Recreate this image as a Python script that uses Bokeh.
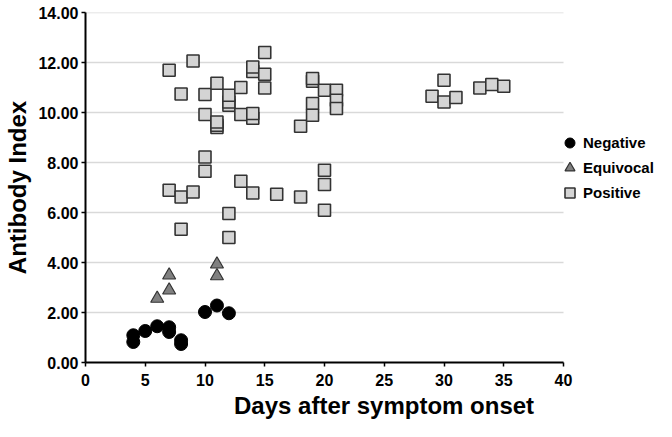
from bokeh.plotting import figure
from bokeh.models import (ColumnDataSource, Legend, LegendItem, Title, FixedTicker,
                          NumeralTickFormatter, Range1d)
from bokeh.embed import file_html
from bokeh.resources import INLINE

# ---- data ----
neg_days = [4, 4, 5, 6, 7, 7, 8, 8, 10, 11, 12]
neg_vals = [1.09, 0.82, 1.26, 1.45, 1.41, 1.22, 0.89, 0.74, 2.02, 2.28, 1.97]

equ_days = [6, 7, 7, 11, 11]
equ_vals = [2.56, 3.49, 2.89, 3.93, 3.46]

pos_days = [7, 7,
            8, 8, 8,
            9, 9,
            10, 10, 10, 10,
            11, 11, 11, 11,
            12, 12, 12, 12, 12,
            13, 13, 13,
            14, 14, 14, 14, 14,
            15, 15, 15,
            16,
            18, 18,
            19, 19, 19, 19,
            20, 20, 20, 20,
            21, 21, 21,
            29, 30, 30, 31, 33, 34, 35]
pos_vals = [11.69, 6.89,
            10.74, 6.62, 5.33,
            12.06, 6.82,
            10.72, 9.92, 8.22, 7.65,
            11.17, 9.40, 9.49, 9.62,
            10.29, 10.42, 10.69, 5.96, 5.00,
            11.00, 9.92, 7.25,
            11.64, 11.82, 9.77, 9.96, 6.78,
            12.40, 11.53, 10.98,
            6.73,
            9.45, 6.62,
            11.25, 11.36, 10.36, 9.89,
            10.89, 7.69, 7.12, 6.09,
            10.89, 10.49, 10.16,
            10.65, 11.29, 10.42, 10.60, 10.98, 11.12, 11.05]

x_ticks = [0, 5, 10, 15, 20, 25, 30, 35, 40]
y_ticks = [0, 2, 4, 6, 8, 10, 12, 14]
series_names = ["Negative", "Equivocal", "Positive"]
x_title = "Days after symptom onset"
y_title = "Antibody Index"

FONT = "Liberation Sans"

# layout (pixels)
W, H = 656, 421
LEFT, TOP, BOTTOM = 85, 12, 59
AXIS_W = 478                      # pixel length of the 0..40 day axis
frame_w = W - LEFT                # frame runs to the right edge (legend lives there)
x_end = x_ticks[-1] * frame_w / AXIS_W

p = figure(width=W, height=H, output_backend="svg", toolbar_location=None,
           x_range=Range1d(x_ticks[0], x_end), y_range=Range1d(y_ticks[0], y_ticks[-1]),
           min_border_left=LEFT, min_border_right=0, min_border_top=TOP,
           min_border_bottom=BOTTOM)
p.outline_line_color = None
p.background_fill_color = "white"
p.border_fill_color = "white"
p.xgrid.grid_line_color = None
p.ygrid.grid_line_color = None

# horizontal gridlines limited to the 0..40 axis span
gy = y_ticks[1:]
p.segment(x0=[x_ticks[0]] * len(gy), x1=[x_ticks[-1]] * len(gy), y0=gy, y1=gy,
          line_color="#d9d9d9", line_width=1.5)

p.xaxis.ticker = FixedTicker(ticks=x_ticks)
p.xaxis.bounds = (x_ticks[0], x_ticks[-1])
p.yaxis.ticker = FixedTicker(ticks=y_ticks)
p.yaxis.formatter = NumeralTickFormatter(format="0.00")
for ax in (p.xaxis, p.yaxis):
    ax.axis_line_color = "black"
    ax.axis_line_width = 2
    ax.major_tick_line_color = "black"
    ax.major_tick_line_width = 1.5
    ax.major_tick_in = 0
    ax.major_tick_out = 4
    ax.minor_tick_line_color = None
    ax.major_label_text_font = FONT
    ax.major_label_text_font_style = "bold"
    ax.major_label_text_font_size = "16px"
    ax.major_label_text_color = "black"
p.xaxis.major_label_standoff = 7
p.yaxis.major_label_standoff = 3

p.yaxis.axis_label = y_title
p.yaxis.axis_label_standoff = 4
p.yaxis.axis_label_text_font = FONT
p.yaxis.axis_label_text_font_style = "bold"
p.yaxis.axis_label_text_font_size = "24px"
p.yaxis.axis_label_text_color = "black"

src_pos = ColumnDataSource(dict(x=pos_days, y=pos_vals))
src_equ = ColumnDataSource(dict(x=equ_days, y=equ_vals))
src_neg = ColumnDataSource(dict(x=neg_days, y=neg_vals))

r_pos = p.scatter("x", "y", source=src_pos, marker="square", size=12,
                  fill_color="#d4d4d4", line_color="#333333", line_width=1.6)
r_equ = p.scatter("x", "y", source=src_equ, marker="triangle", size=13,
                  fill_color="#808080", line_color="#333333", line_width=1.2)
r_neg = p.scatter("x", "y", source=src_neg, marker="circle", size=13,
                  fill_color="black", line_color="black", line_width=1)

legend = Legend(items=[LegendItem(label=series_names[0], renderers=[r_neg]),
                       LegendItem(label=series_names[1], renderers=[r_equ]),
                       LegendItem(label=series_names[2], renderers=[r_pos])],
                location=(472, 157.5), orientation="vertical",
                padding=0, margin=0, spacing=0,
                glyph_width=25, glyph_height=25, label_height=25,
                label_standoff=1, border_line_color=None,
                background_fill_alpha=0,
                label_text_font=FONT, label_text_font_style="bold",
                label_text_font_size="15px", label_text_color="black")
p.add_layout(legend, "center")

p.add_layout(Title(text=x_title, align="left", offset=148.5, standoff=3,
                   vertical_align="bottom", text_font=FONT,
                   text_font_style="bold", text_font_size="24px",
                   text_color="black"), "below")

open("out.html", "w").write(file_html(p, INLINE))
